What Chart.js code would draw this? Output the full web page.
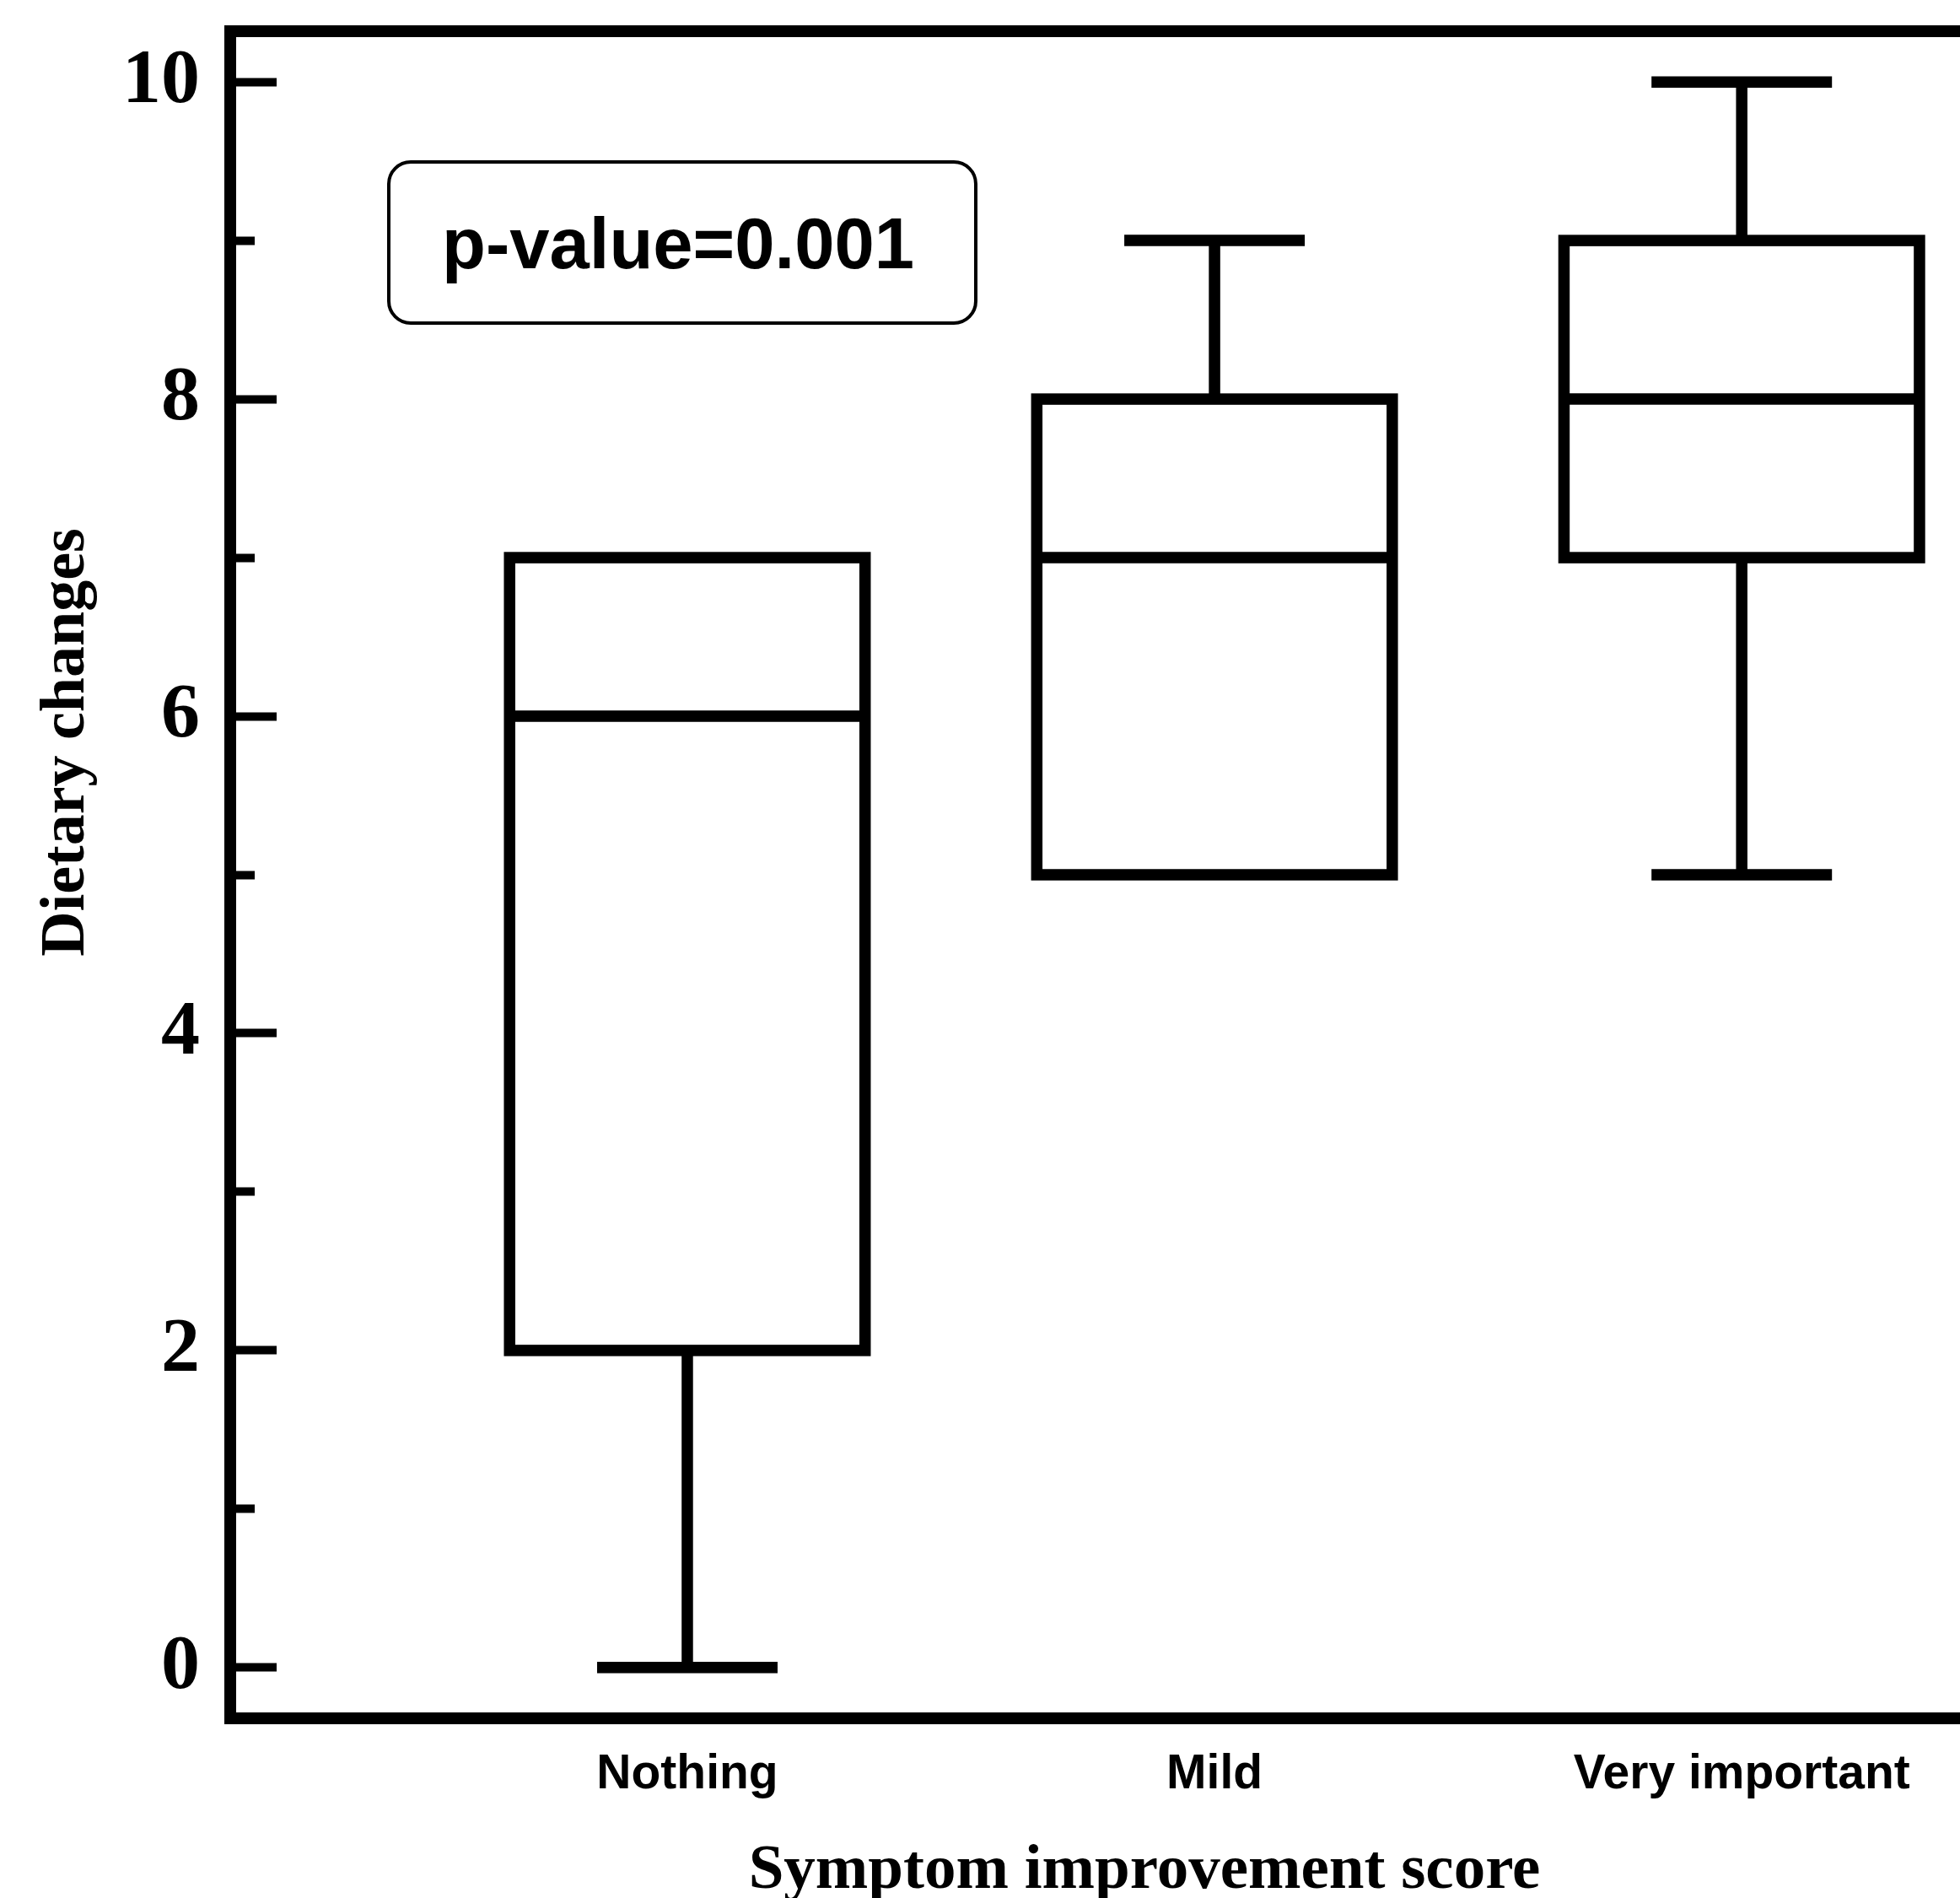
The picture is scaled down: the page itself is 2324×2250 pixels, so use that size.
<!DOCTYPE html>
<html>
<head>
<meta charset="utf-8">
<script src="https://cdn.jsdelivr.net/npm/chart.js@4.4.1/dist/chart.umd.min.js"></script>
<style>
  html, body { margin: 0; padding: 0; background: #fff; }
  canvas { display: block; }
</style>
</head>
<body>
<canvas id="boxChart" width="2324" height="2250"></canvas>
<script>
const categories = ["Nothing", "Mild", "Very important"];
const minValues = [0, 5, 5];
const q1Values = [2, 5, 7];
const medianValues = [6, 7, 8];
const q3Values = [7, 8, 9];
const maxValues = [7, 9, 10];
const yTicks = [0, 2, 4, 6, 8, 10];
const yMinorTicks = [1, 3, 5, 7, 9];
const xTitle = "Symptom improvement score";
const yTitle = "Dietary changes";
const pValueText = "p-value=0.001";

const LINE = 13.5;
const FRAME = 14;
const CAP_HALF = 107;

// boxes, medians and whiskers, placed with the chart's own scales
const boxPlotPlugin = {
  id: "boxPlot",
  afterDatasetsDraw(chart) {
    const { ctx, scales: { x, y } } = chart;
    const meta = chart.getDatasetMeta(0);
    ctx.save();
    ctx.strokeStyle = "#000";
    ctx.lineWidth = LINE;
    ctx.lineCap = "butt";
    ctx.lineJoin = "miter";
    categories.forEach((cat, i) => {
      const cx = x.getPixelForValue(i);
      const half = (meta.data[i].width - LINE) / 2;
      const yMin = y.getPixelForValue(minValues[i]);
      const yQ1 = y.getPixelForValue(q1Values[i]);
      const yMed = y.getPixelForValue(medianValues[i]);
      const yQ3 = y.getPixelForValue(q3Values[i]);
      const yMax = y.getPixelForValue(maxValues[i]);

      ctx.beginPath();
      if (maxValues[i] > q3Values[i]) {
        ctx.moveTo(cx, yQ3);
        ctx.lineTo(cx, yMax);
        ctx.moveTo(cx - CAP_HALF, yMax);
        ctx.lineTo(cx + CAP_HALF, yMax);
      }
      if (minValues[i] < q1Values[i]) {
        ctx.moveTo(cx, yQ1);
        ctx.lineTo(cx, yMin);
        ctx.moveTo(cx - CAP_HALF, yMin);
        ctx.lineTo(cx + CAP_HALF, yMin);
      }
      ctx.moveTo(cx - half, yMed);
      ctx.lineTo(cx + half, yMed);
      ctx.stroke();

      ctx.strokeRect(cx - half, yQ3, half * 2, yQ1 - yQ3);
    });
    ctx.restore();
  },
};

// axis titles and the p-value label
const annotationPlugin = {
  id: "annotations",
  afterDraw(chart) {
    const { ctx } = chart;
    ctx.save();
    ctx.fillStyle = "#000";
    ctx.textAlign = "center";
    ctx.textBaseline = "alphabetic";

    ctx.save();
    ctx.font = "bold 74px 'Liberation Serif'";
    ctx.translate(99, 880);
    ctx.rotate(-Math.PI / 2);
    ctx.fillText(yTitle, 0, 0);
    ctx.restore();

    ctx.font = "bold 75px 'Liberation Serif'";
    ctx.fillText(xTitle, 1357, 2238);

    ctx.strokeStyle = "#000";
    ctx.lineWidth = 4;
    ctx.beginPath();
    ctx.roundRect(461, 192, 696, 191, 26);
    ctx.stroke();
    ctx.font = "bold 85px 'Liberation Sans'";
    ctx.fillText(pValueText, 804, 318);
    ctx.restore();
  },
};

const noPad = (scale) => {
  scale.paddingTop = 0;
  scale.paddingBottom = 0;
  scale.paddingLeft = 0;
  scale.paddingRight = 0;
};

new Chart(document.getElementById("boxChart"), {
  type: "bar",
  data: {
    datasets: [
      {
        label: yTitle,
        data: categories.map((cat, i) => ({ x: i, y: [q1Values[i], q3Values[i]] })),
        backgroundColor: "rgba(0,0,0,0)",
        borderWidth: 0,
        barThickness: 435,
        xAxisID: "x",
        yAxisID: "y",
      },
    ],
  },
  options: {
    responsive: false,
    animation: false,
    devicePixelRatio: 1,
    layout: { padding: 0 },
    plugins: {
      legend: { display: false },
      tooltip: { enabled: false },
    },
    scales: {
      x: {
        type: "linear",
        position: "bottom",
        offset: false,
        min: -0.867,
        max: 2.414,
        afterBuildTicks: (scale) => {
          scale.ticks = categories.map((cat, i) => ({ value: i }));
        },
        afterFit: (scale) => {
          scale.height = 213;
          noPad(scale);
        },
        grid: { display: false, drawTicks: false },
        border: { display: true, color: "#000", width: FRAME },
        ticks: {
          autoSkip: false,
          maxRotation: 0,
          padding: 33,
          color: "#000",
          font: { family: "'Liberation Sans'", size: 57, weight: "bold" },
          callback: (value) => categories[value],
        },
      },
      xTop: {
        type: "linear",
        position: "top",
        afterFit: (scale) => {
          scale.height = 37;
          noPad(scale);
        },
        grid: { display: false, drawTicks: false },
        ticks: { display: false },
        border: { display: true, color: "#000", width: FRAME },
      },
      y: {
        type: "linear",
        position: "left",
        weight: 1,
        min: -0.32,
        max: 10.32,
        afterBuildTicks: (scale) => {
          scale.ticks = yTicks.map((v) => ({ value: v }));
        },
        afterFit: (scale) => {
          scale.width = 273;
          noPad(scale);
        },
        grid: {
          display: true,
          drawOnChartArea: false,
          drawTicks: true,
          tickLength: -55,
          tickWidth: 10,
          tickColor: "#000",
        },
        border: { display: true, color: "#000", width: FRAME },
        ticks: {
          padding: 91,
          color: "#000",
          font: { family: "'Liberation Serif'", size: 92, weight: "bold" },
        },
      },
      yMinor: {
        type: "linear",
        position: "left",
        weight: 0,
        min: -0.32,
        max: 10.32,
        afterBuildTicks: (scale) => {
          scale.ticks = yMinorTicks.map((v) => ({ value: v }));
        },
        afterFit: (scale) => {
          scale.width = 0;
          noPad(scale);
        },
        grid: {
          display: true,
          drawOnChartArea: false,
          drawTicks: true,
          tickLength: -29,
          tickWidth: 10,
          tickColor: "#000",
        },
        border: { display: false },
        ticks: { display: false },
      },
    },
  },
  plugins: [boxPlotPlugin, annotationPlugin],
});
</script>
</body>
</html>
